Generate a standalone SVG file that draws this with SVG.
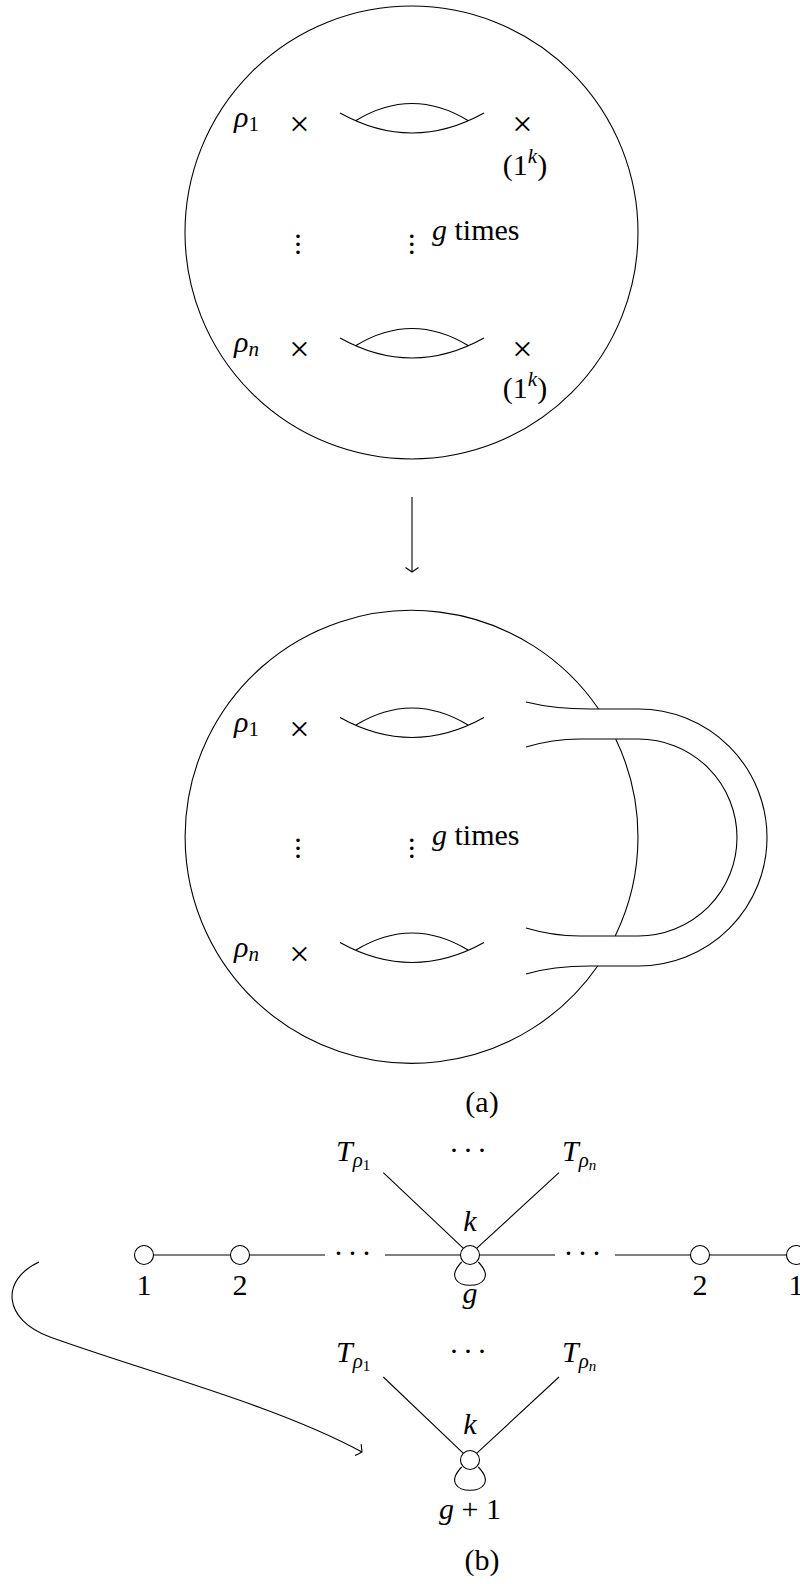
<svg xmlns="http://www.w3.org/2000/svg" width="800" height="1584" viewBox="0 0 800 1584">
<style>
.ln{fill:none;stroke:#000;stroke-width:1.1}
.nd{fill:#fff;stroke:#000;stroke-width:1.1}
text{font-family:'Liberation Serif','Times New Roman',serif;fill:#000}
.t{font-size:30px}
.tb{font-size:30px}
.x{font-size:36px}
.it{font-style:italic}
.up{font-style:normal}
</style>
<defs>
<marker id="arr" viewBox="-8 -9 10 18" markerWidth="10" markerHeight="18" refX="0" refY="0" orient="auto" markerUnits="userSpaceOnUse" overflow="visible">
<path d="M -4.5 -6.5 Q -1.2 -1.8 0 0 Q -1.2 1.8 -4.5 6.5" fill="none" stroke="#000" stroke-width="1.1"/>
</marker>
</defs>
<rect width="800" height="1584" fill="#fff"/>

<!-- (a) upper surface -->
<g id="surface-top">
<circle class="ln" cx="411.5" cy="232.5" r="226.5"/>
<path class="ln" d="M340 113 Q412 153 484 113 M356 120.5 Q412 86.5 468 120.5"/>
<path class="ln" d="M340 338 Q412 378 484 338 M356 345.5 Q412 311.5 468 345.5"/>
<text class="t it" x="234" y="127">ρ<tspan class="up" font-size="21" dy="4">1</tspan></text>
<text class="x" x="299.5" y="136" text-anchor="middle">×</text>
<text class="x" x="522.5" y="136" text-anchor="middle">×</text>
<text class="t" x="525" y="175" text-anchor="middle">(1<tspan class="it" font-size="21" dy="-12">k</tspan><tspan dy="12">)</tspan></text>
<text class="t" x="298 298 298" y="245.5 253.8 261.5" text-anchor="middle">···</text>
<text class="t" x="411.7 411.7 411.7" y="245.5 253.8 261.5" text-anchor="middle">···</text>
<text class="t" x="432" y="240"><tspan class="it">g</tspan> times</text>
<text class="t it" x="234" y="352">ρ<tspan font-size="21" dy="4">n</tspan></text>
<text class="x" x="299.5" y="361" text-anchor="middle">×</text>
<text class="x" x="522.5" y="361" text-anchor="middle">×</text>
<text class="t" x="525" y="398" text-anchor="middle">(1<tspan class="it" font-size="21" dy="-12">k</tspan><tspan dy="12">)</tspan></text>
</g>

<!-- (a) lower surface -->
<g id="surface-bottom">
<path class="ln" d="M597.7 966 A226.5 226.5 0 1 1 598.6 709 M615.7 739 A226.5 226.5 0 0 1 615.2 936"/>
<path class="ln" d="M340 717.5 Q412 757.5 484 717.5 M356 725 Q412 691 468 725"/>
<path class="ln" d="M340 942.5 Q412 982.5 484 942.5 M356 950 Q412 916 468 950"/>
<text class="t it" x="234" y="731.5">ρ<tspan class="up" font-size="21" dy="4">1</tspan></text>
<text class="x" x="299.5" y="740.5" text-anchor="middle">×</text>
<text class="t" x="298 298 298" y="850 858.3 866" text-anchor="middle">···</text>
<text class="t" x="411.7 411.7 411.7" y="850 858.3 866" text-anchor="middle">···</text>
<text class="t" x="432" y="844.5"><tspan class="it">g</tspan> times</text>
<text class="t it" x="234" y="956.5">ρ<tspan font-size="21" dy="4">n</tspan></text>
<text class="x" x="299.5" y="965.5" text-anchor="middle">×</text>
</g>

<g id="tube">
<path class="ln" d="M526 702 C546 707 566 709 590 709 L638.5 709 A128.5 128.5 0 0 1 638.5 966 L590 966 C566 966 546 968 526 974"/>
<path class="ln" d="M526 747 C546 741 560 739 580 739 L638.5 739 A98.5 98.5 0 0 1 638.5 936 L580 936 C560 936 546 934 526 928"/>
</g>

<text id="label-a" class="t" x="482" y="1112" text-anchor="middle">(a)</text>

<!-- connectors -->
<g id="connectors" class="ln">
<line x1="412" y1="497" x2="412" y2="572" marker-end="url(#arr)"/>
<line x1="153.5" y1="1255" x2="230.5" y2="1255"/>
<line x1="249.5" y1="1255" x2="325" y2="1255"/>
<line x1="385" y1="1255" x2="460.7" y2="1255"/>
<line x1="479.3" y1="1255" x2="555" y2="1255"/>
<line x1="615" y1="1255" x2="690.5" y2="1255"/>
<line x1="709.5" y1="1255" x2="786.5" y2="1255"/>
<line x1="383.3" y1="1172.7" x2="463.4" y2="1248.4"/>
<line x1="559" y1="1172.7" x2="476.6" y2="1248.4"/>
<path d="M461.7 1262 C432 1293 508 1293 478.3 1262"/>
<line x1="383.3" y1="1377" x2="463.4" y2="1453.4"/>
<line x1="559" y1="1377" x2="476.6" y2="1453.4"/>
<path d="M461.7 1467 C432 1498 508 1498 478.3 1467"/>
<path d="M39 1262 C0 1280 3 1320 50 1337 C150 1373 275 1405 362 1452" marker-end="url(#arr)"/>
</g>

<!-- (b) upper graph -->
<g id="graph-top">
<g id="n1-left"><circle class="nd" cx="144" cy="1255" r="9.5"/><text class="tb" x="144" y="1295" text-anchor="middle">1</text></g>
<g id="n2-left"><circle class="nd" cx="240" cy="1255" r="9.5"/><text class="tb" x="240" y="1295" text-anchor="middle">2</text></g>
<text class="t" x="338.5 352.5 366.5" y="1263" text-anchor="middle">···</text>
<g id="center-top"><circle class="nd" cx="470" cy="1255" r="9.5"/><text class="tb it" x="470" y="1231" text-anchor="middle">k</text><text class="tb it" x="470" y="1303" text-anchor="middle">g</text></g>
<text class="t" x="568.5 582.5 596.5" y="1263" text-anchor="middle">···</text>
<g id="n2-right"><circle class="nd" cx="700" cy="1255" r="9.5"/><text class="tb" x="700" y="1295" text-anchor="middle">2</text></g>
<g id="n1-right"><circle class="nd" cx="796" cy="1255" r="9.5"/><text class="tb" x="796" y="1295" text-anchor="middle">1</text></g>
<text class="tb it" x="336" y="1161">T<tspan font-size="21" dy="6">ρ</tspan><tspan class="up" font-size="15" dy="3">1</tspan></text>
<text class="t" x="454 468 482" y="1160" text-anchor="middle">···</text>
<text class="tb it" x="562" y="1161">T<tspan font-size="21" dy="6">ρ</tspan><tspan font-size="15" dy="3">n</tspan></text>
</g>

<!-- (b) lower graph -->
<g id="graph-bottom">
<g id="center-bottom"><circle class="nd" cx="470" cy="1460" r="9.5"/><text class="tb it" x="470" y="1434" text-anchor="middle">k</text><text class="tb" x="470" y="1519" text-anchor="middle"><tspan class="it">g</tspan> + 1</text></g>
<text class="tb it" x="336" y="1362">T<tspan font-size="21" dy="6">ρ</tspan><tspan class="up" font-size="15" dy="3">1</tspan></text>
<text class="t" x="454 468 482" y="1361" text-anchor="middle">···</text>
<text class="tb it" x="562" y="1362">T<tspan font-size="21" dy="6">ρ</tspan><tspan font-size="15" dy="3">n</tspan></text>
</g>

<text id="label-b" class="t" x="482" y="1570" text-anchor="middle">(b)</text>
</svg>
